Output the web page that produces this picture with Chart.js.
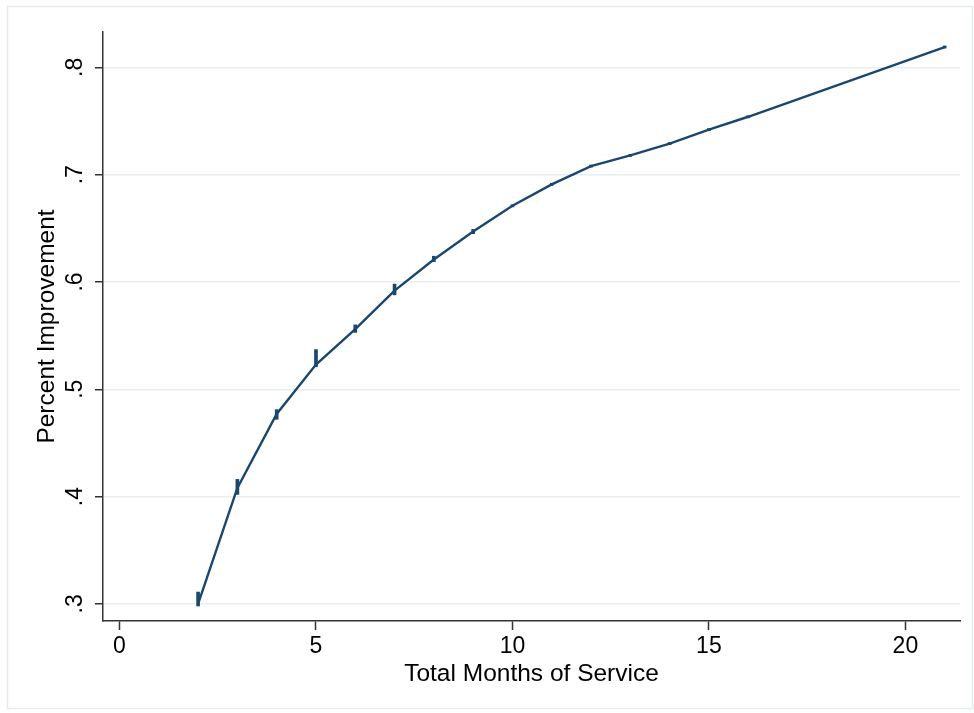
<!DOCTYPE html>
<html>
<head>
<meta charset="utf-8">
<script src="https://cdn.jsdelivr.net/npm/chart.js@4/dist/chart.umd.min.js"></script>
<style>
  html, body { margin: 0; padding: 0; background: #ffffff; }
  #wrap { position: relative; width: 974px; height: 713px; }
</style>
</head>
<body>
<div id="wrap"><canvas id="c" width="974" height="713"></canvas></div>
<script>
// ---- data ----
const months      = [2, 3, 4, 5, 6, 7, 8, 9, 10, 11, 12, 13, 14, 15, 16, 21];
const improvement = [0.300, 0.408, 0.477, 0.523, 0.556, 0.592, 0.621, 0.647, 0.671, 0.691, 0.708, 0.718, 0.729, 0.742, 0.754, 0.819];
const ciLow       = [0.298, 0.402, 0.472, 0.521, 0.553, 0.588, 0.619, 0.645, 0.670, 0.690, 0.707, 0.717, 0.728, 0.741, 0.753, 0.818];
const ciHigh      = [0.311, 0.416, 0.481, 0.537, 0.560, 0.598, 0.624, 0.649, 0.672, 0.692, 0.709, 0.719, 0.730, 0.743, 0.755, 0.820];
const xTicks      = [0, 5, 10, 15, 20];
const yTicks      = [0.3, 0.4, 0.5, 0.6, 0.7, 0.8];
const xTitle      = 'Total Months of Service';
const yTitle      = 'Percent Improvement';

const NAVY = '#1a476f';
const FONT = "'Liberation Sans', Arial, Helvetica, sans-serif";

const lineData = months.map((m, i) => ({ x: m, y: improvement[i] }));
const ciData   = months.map((m, i) => ({ x: m, y: [ciLow[i], ciHigh[i]] }));

const frame = {
  id: 'frame',
  beforeDraw(chart) {
    const ctx = chart.ctx;
    ctx.save();
    ctx.strokeStyle = '#e4ecee';
    ctx.lineWidth = 1.5;
    ctx.strokeRect(7.5, 6.5, 965, 702);
    ctx.restore();
  }
};

new Chart(document.getElementById('c'), {
  type: 'line',
  data: {
    datasets: [
      {
        type: 'bar',
        data: ciData,
        backgroundColor: NAVY,
        borderWidth: 0,
        barThickness: 3,
        order: 2
      },
      {
        type: 'line',
        data: lineData,
        borderColor: NAVY,
        borderWidth: 2.4,
        pointRadius: 0,
        tension: 0,
        fill: false,
        order: 1
      }
    ]
  },
  options: {
    responsive: false,
    animation: false,
    layout: { padding: { left: 0, right: 14, top: 32, bottom: 0 } },
    plugins: { legend: { display: false }, tooltip: { enabled: false } },
    scales: {
      x: {
        type: 'linear',
        min: -0.42,
        max: 21.39,
        offset: false,
        afterBuildTicks: s => { s.ticks = xTicks.map(v => ({ value: v })); },
        afterFit: s => { s.height = 92; },
        border: { color: '#333333', width: 1.5 },
        grid: { display: true, drawOnChartArea: false, drawTicks: true, tickLength: 9, tickColor: '#333333', tickWidth: 1.5, offset: false },
        ticks: { color: '#000', font: { family: FONT, size: 23 }, padding: 3, maxRotation: 0, autoSkip: false },
        title: { display: true, text: xTitle, color: '#000', font: { family: FONT, size: 24.5 }, padding: { top: 0, bottom: 24 } }
      },
      y: {
        type: 'linear',
        min: 0.284,
        max: 0.833,
        afterBuildTicks: s => { s.ticks = yTicks.map(v => ({ value: v })); },
        afterFit: s => { s.width = 103; },
        border: { color: '#333333', width: 1.5 },
        grid: { color: '#e9eff1', lineWidth: 1.5, tickLength: 8, tickColor: '#333333', tickWidth: 1.5 },
        ticks: {
          color: '#000',
          font: { family: FONT, size: 23 },
          padding: 10,
          crossAlign: 'center',
          minRotation: 90,
          maxRotation: 90,
          autoSkip: false,
          callback: v => v.toFixed(1).replace(/^0/, '')
        },
        title: { display: true, text: yTitle, color: '#000', font: { family: FONT, size: 24.5 }, padding: { top: 33, bottom: 0 } }
      }
    }
  },
  plugins: [frame]
});
</script>
</body>
</html>
